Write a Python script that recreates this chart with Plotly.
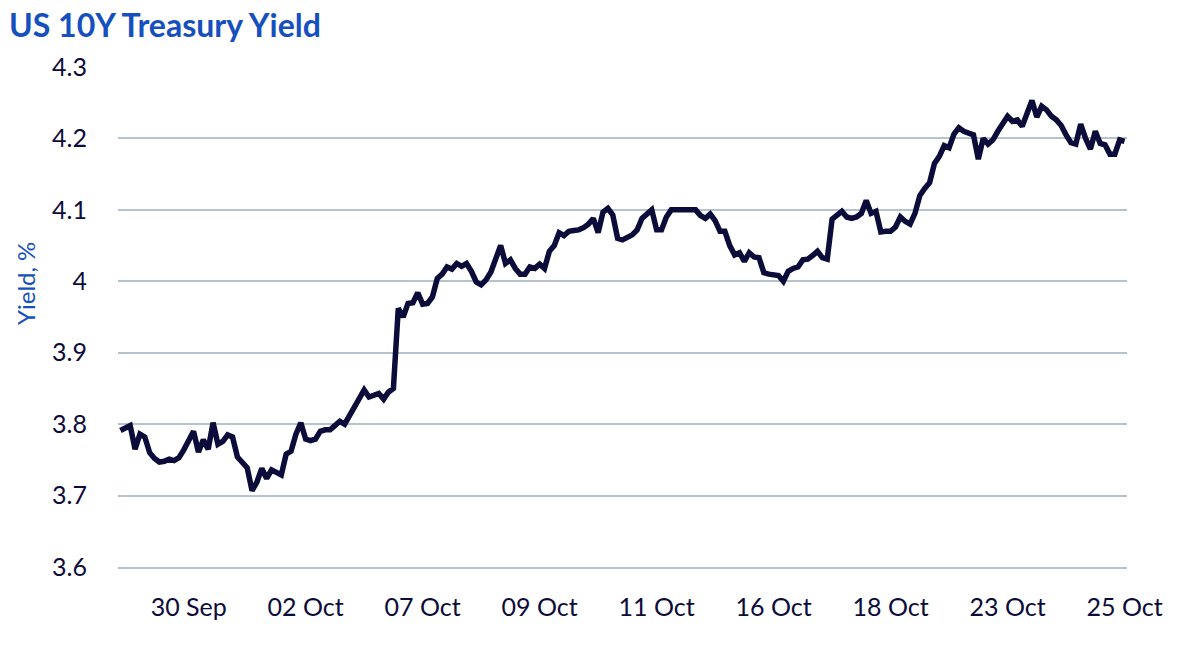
import plotly.graph_objects as go

# US 10Y yield, one value per step along the category axis
yields = [
    3.791, 3.795, 3.798, 3.765, 3.786, 3.782, 3.760, 3.752, 3.747, 3.748,
    3.751, 3.749, 3.753, 3.764, 3.777, 3.790, 3.761, 3.778, 3.765, 3.802,
    3.772, 3.776, 3.785, 3.782, 3.754, 3.746, 3.739, 3.707, 3.719, 3.738,
    3.724, 3.736, 3.733, 3.729, 3.758, 3.762, 3.786, 3.802, 3.779, 3.777,
    3.779, 3.790, 3.792, 3.792, 3.798, 3.804, 3.800, 3.812, 3.826, 3.838,
    3.848, 3.838, 3.841, 3.843, 3.835, 3.845, 3.850, 3.962, 3.950, 3.969,
    3.970, 3.984, 3.968, 3.969, 3.978, 4.004, 4.010, 4.020, 4.017, 4.025,
    4.021, 4.025, 4.014, 3.999, 3.995, 4.002, 4.013, 4.030, 4.050, 4.025,
    4.030, 4.018, 4.010, 4.010, 4.020, 4.018, 4.024, 4.018, 4.042, 4.050,
    4.068, 4.064, 4.070, 4.071, 4.072, 4.075, 4.080, 4.088, 4.068, 4.097,
    4.102, 4.093, 4.060, 4.058, 4.061, 4.065, 4.072, 4.088, 4.094, 4.100,
    4.072, 4.072, 4.090, 4.100, 4.100, 4.100, 4.100, 4.100, 4.100, 4.092,
    4.088, 4.094, 4.085, 4.070, 4.070, 4.050, 4.037, 4.040, 4.028, 4.040,
    4.034, 4.033, 4.012, 4.010, 4.008, 4.008, 4.000, 4.014, 4.018, 4.020,
    4.030, 4.031, 4.036, 4.042, 4.033, 4.031, 4.087, 4.092, 4.098, 4.090,
    4.088, 4.090, 4.095, 4.113, 4.095, 4.098, 4.069, 4.070, 4.070, 4.076,
    4.090, 4.084, 4.080, 4.095, 4.120, 4.130, 4.138, 4.165, 4.175, 4.190,
    4.187, 4.206, 4.215, 4.210, 4.208, 4.205, 4.171, 4.200, 4.192, 4.198,
    4.210, 4.222, 4.231, 4.224, 4.226, 4.217, 4.236, 4.253, 4.230, 4.245,
    4.240, 4.231, 4.226, 4.218, 4.205, 4.194, 4.192, 4.220, 4.200, 4.185,
    4.210, 4.193, 4.191, 4.178, 4.178, 4.198, 4.196,
]
steps = list(range(len(yields)))

# date labels and the step they sit on
tick_steps = [14, 38, 62, 86, 110, 134, 158, 182, 206]
tick_labels = ["30 Sep", "02 Oct", "07 Oct", "09 Oct", "11 Oct",
               "16 Oct", "18 Oct", "23 Oct", "25 Oct"]

y_ticks = [3.6, 3.7, 3.8, 3.9, 4.0, 4.1, 4.2, 4.3]
y_tick_text = ["3.6", "3.7", "3.8", "3.9", "4", "4.1", "4.2", "4.3"]

NAVY = "#0c0c3a"
BLUE = "#1550be"
GRID = "#b7c2cf"
FONT = "Lato"

fig = go.Figure()
fig.add_trace(go.Scatter(
    x=steps, y=yields, mode="lines",
    line=dict(color=NAVY, width=5.5),
    hoverinfo="skip", showlegend=False,
))

fig.update_layout(
    width=1200, height=661,
    margin=dict(l=118, r=73, t=67, b=94),
    paper_bgcolor="white", plot_bgcolor="white",
    font=dict(family=FONT, color=NAVY),
    title=dict(
        text="<b>US 10Y Treasury Yield</b>",
        font=dict(family=FONT, size=32, color=BLUE),
        xref="container", yref="container",
        x=9 / 1200, xanchor="left",
        y=1 - 26 / 661, yanchor="middle",
    ),
)

fig.update_xaxes(
    range=[-0.5, len(yields) - 0.5],
    tickmode="array", tickvals=tick_steps, ticktext=tick_labels,
    tickfont=dict(size=25, color=NAVY),
    showgrid=False, zeroline=False,
    showline=True, linecolor=GRID, linewidth=1.5,
    ticks="", ticklabelstandoff=17,
)
fig.update_yaxes(
    range=[3.6, 4.3],
    tickmode="array", tickvals=y_ticks, ticktext=y_tick_text,
    tickfont=dict(size=25, color=NAVY),
    showgrid=True, gridcolor=GRID, gridwidth=1.5,
    zeroline=False, showline=False,
    ticks="", ticklabelstandoff=30,
)

fig.add_annotation(
    text="Yield, %", textangle=-90, showarrow=False,
    xref="paper", yref="paper", x=0, y=0.566,
    xanchor="center", yanchor="middle", xshift=-93,
    font=dict(family=FONT, size=24, color=BLUE),
)

fig.write_html("out.html", config={"displayModeBar": False},
               post_script="document.body.style.margin='0';")
